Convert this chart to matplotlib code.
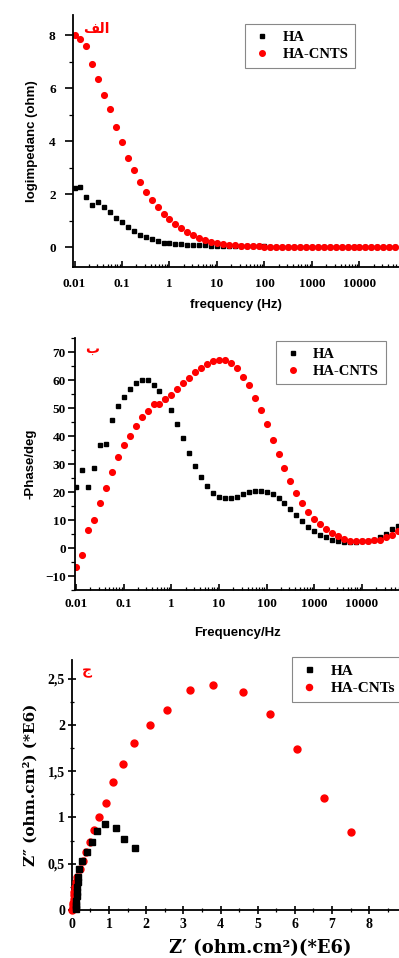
import matplotlib.pyplot as plt
from matplotlib.ticker import LogLocator, NullFormatter, MultipleLocator

# ---- данные ----
freq = [0.01, 0.0133, 0.0178, 0.0237, 0.0316, 0.0422, 0.0562, 0.075,
        0.1, 0.133, 0.178, 0.237, 0.316, 0.422, 0.562, 0.75,
        1, 1.33, 1.78, 2.37, 3.16, 4.22, 5.62, 7.5,
        10, 13.3, 17.8, 23.7, 31.6, 42.2, 56.2, 75,
        100, 133, 178, 237, 316, 422, 562, 750,
        1000, 1330, 1780, 2370, 3160, 4220, 5620, 7500,
        10000, 13300, 17800, 23700, 31600, 42200, 56200]

logz_ha = [2.23, 2.27, 1.90, 1.60, 1.71, 1.53, 1.32, 1.12, 0.94, 0.75, 0.61,
           0.48, 0.38, 0.30, 0.23, 0.18, 0.15, 0.13, 0.11, 0.10, 0.09, 0.08,
           0.08, 0.07, 0.07, 0.06, 0.06, 0.05, 0.05, 0.05, 0.04, 0.04, 0.04,
           0.03, 0.03, 0.03, 0.02, 0.02, 0.02, 0.02, 0.02, 0.02, 0.02, 0.02,
           0.02, 0.02, 0.02, 0.02, 0.02, 0.02, 0.02, 0.02, 0.02, 0.02, 0.02]
logz_cnt = [8.02, 7.87, 7.58, 6.92, 6.35, 5.75, 5.21, 4.54, 3.98, 3.38, 2.92,
            2.48, 2.09, 1.77, 1.51, 1.27, 1.06, 0.89, 0.72, 0.58, 0.46, 0.35,
            0.28, 0.22, 0.16, 0.13, 0.10, 0.08, 0.06, 0.05, 0.04, 0.04, 0.03,
            0.03, 0.03, 0.03, 0.02, 0.02, 0.02, 0.02, 0.02, 0.02, 0.02, 0.02,
            0.02, 0.02, 0.02, 0.02, 0.02, 0.02, 0.02, 0.02, 0.02, 0.02, 0.02]

phase_ha = [22.0, 28.0, 21.7, 28.8, 36.7, 37.3, 45.9, 50.9, 54.0, 57.0, 58.9,
            60.2, 60.2, 58.3, 56.3, 53.4, 49.2, 44.3, 39.2, 34.1, 29.4, 25.4,
            22.3, 19.8, 18.4, 17.8, 17.8, 18.4, 19.4, 20.2, 20.4, 20.4, 20.2,
            19.4, 17.9, 16.0, 13.9, 11.7, 9.6, 7.6, 6.1, 4.8, 3.8, 3.0, 2.5,
            2.2, 2.2, 2.2, 2.4, 2.5, 3.0, 3.8, 5.1, 6.7, 8.0]
phase_cnt = [-6.7, -2.3, 6.3, 10.2, 16.0, 21.6, 27.2, 32.6, 37.0, 40.1, 43.8,
             46.8, 49.1, 51.4, 51.4, 53.4, 54.8, 56.9, 58.9, 60.8, 62.8, 64.4,
             65.7, 66.8, 67.1, 67.1, 66.2, 64.2, 61.3, 58.2, 53.8, 49.2, 44.4,
             38.8, 33.5, 28.6, 24.1, 19.8, 16.2, 12.9, 10.3, 8.5, 6.7, 5.5,
             4.3, 3.3, 2.7, 2.6, 2.6, 2.6, 2.9, 2.9, 3.8, 4.7, 6.0]

zre_ha = [1.69, 1.41, 1.20, 0.90, 0.69, 0.54, 0.40, 0.27, 0.20, 0.17,
          0.16, 0.15, 0.14, 0.13, 0.12, 0.11, 0.11, 0.10]
zim_ha = [0.67, 0.77, 0.89, 0.93, 0.85, 0.74, 0.63, 0.53, 0.44, 0.36,
          0.30, 0.25, 0.20, 0.15, 0.10, 0.06, 0.03, 0.01]
zre_cnt = [7.50, 6.77, 6.07, 5.33, 4.60, 3.80, 3.17, 2.57, 2.09, 1.68, 1.37,
           1.11, 0.93, 0.74, 0.61, 0.49, 0.38, 0.29, 0.21, 0.14, 0.11, 0.09,
           0.07, 0.06, 0.05, 0.04, 0.03, 0.02, 0.01]
zim_cnt = [0.84, 1.21, 1.74, 2.12, 2.36, 2.43, 2.38, 2.16, 2.00, 1.80, 1.58,
           1.38, 1.16, 1.00, 0.86, 0.74, 0.63, 0.53, 0.44, 0.36, 0.30, 0.25,
           0.20, 0.16, 0.12, 0.08, 0.05, 0.02, 0.005]

freq_ticks = [0.01, 0.1, 1, 10, 100, 1000, 10000]
freq_labels = ['0.01', '0.1', '1', '10', '100', '1000', '10000']

SERIF = 'Liberation Serif'
SANS = 'Liberation Sans'

# жирный шрифт с засечками для подписей делений
plt.rcParams['font.family'] = [SERIF, 'DejaVu Sans']
plt.rcParams['font.weight'] = 'bold'

fig = plt.figure(figsize=(3.99, 9.58), dpi=100)
fig.patch.set_facecolor('white')


def style_axis(ax):
    ax.spines['top'].set_visible(False)
    ax.spines['right'].set_visible(False)
    for s in ('left', 'bottom'):
        ax.spines[s].set_linewidth(1.3)


def freq_axis(ax, xpad, ylen, ypad):
    ax.set_xscale('log')
    ax.set_xticks(freq_ticks)
    ax.set_xticklabels(freq_labels)
    ax.xaxis.set_minor_locator(LogLocator(base=10, subs=range(2, 10), numticks=20))
    ax.xaxis.set_minor_formatter(NullFormatter())
    ax.tick_params(axis='x', which='major', direction='in', length=4, width=1.2, labelsize=9.5, pad=xpad)
    ax.tick_params(axis='x', which='minor', direction='in', length=2.5, width=0.9)
    ax.tick_params(axis='y', which='major', direction='out', length=ylen, width=1.2, labelsize=9.5, pad=ypad)
    ax.tick_params(axis='y', which='minor', direction='out', length=ylen * 0.55, width=0.9)


def add_legend(ax, labels, anchor, size, ms):
    h1, = ax.plot([], [], 's', color='black', ms=ms[0], linestyle='none')
    h2, = ax.plot([], [], 'o', color='red', ms=ms[1], linestyle='none')
    leg = ax.legend([h1, h2], labels, loc='upper left', bbox_to_anchor=anchor,
                    borderaxespad=0, fancybox=False, framealpha=1, edgecolor='#888888',
                    handletextpad=0.7, handlelength=1.4, borderpad=0.45, labelspacing=0.25,
                    prop={'family': SERIF, 'weight': 'bold', 'size': size})
    leg.get_frame().set_linewidth(0.8)
    return leg


# ---- панель 1: логарифм импеданса ----
ax1 = fig.add_axes([0.183, 0.721, 0.817, 0.263])
ax1.plot(freq, logz_ha, 's', color='black', ms=3.4, linestyle='none')
ax1.plot(freq, logz_cnt, 'o', color='red', ms=4.1, linestyle='none')
freq_axis(ax1, xpad=8, ylen=5.5, ypad=7)
ax1.set_xlim(0.0093, 68000)
ax1.set_ylim(-0.75, 8.75)
ax1.set_yticks([0, 2, 4, 6, 8])
ax1.yaxis.set_minor_locator(MultipleLocator(1))
ax1.set_xlabel('frequency (Hz)', fontfamily=SANS, fontweight='bold', fontsize=9.5, labelpad=6)
ax1.set_ylabel('logimpedanc (ohm)', fontfamily=SANS, fontweight='bold', fontsize=9.5, labelpad=8)
style_axis(ax1)
add_legend(ax1, ['HA', 'HA-CNTS'], (0.528, 0.964), 10.5, (3.2, 4.0))
ax1.text(0.03, 0.975, '\uFED2\uFEDF\uFE8D', transform=ax1.transAxes, color='red',
         fontfamily='DejaVu Sans', fontweight='bold', fontsize=10, va='top', ha='left')

# ---- панель 2: фаза ----
ax2 = fig.add_axes([0.188, 0.384, 0.812, 0.263])
ax2.plot(freq, phase_ha, 's', color='black', ms=3.4, linestyle='none')
ax2.plot(freq, phase_cnt, 'o', color='red', ms=4.1, linestyle='none')
freq_axis(ax2, xpad=6, ylen=5, ypad=1.5)
ax2.set_xlim(0.0095, 60000)
ax2.set_ylim(-15, 75)
ax2.set_yticks(range(-10, 71, 10))
ax2.yaxis.set_minor_locator(MultipleLocator(5))
ax2.set_xlabel('Frequency/Hz', fontfamily=SANS, fontweight='bold', fontsize=9.5, labelpad=12)
ax2.set_ylabel('-Phase/deg', fontfamily=SANS, fontweight='bold', fontsize=9.5, labelpad=6)
style_axis(ax2)
add_legend(ax2, ['HA', 'HA-CNTS'], (0.620, 0.988), 10.5, (3.2, 4.0))
ax2.text(0.03, 0.985, '\uFE8F', transform=ax2.transAxes, color='red',
         fontfamily='DejaVu Sans', fontweight='bold', fontsize=10, va='top', ha='left')

# ---- панель 3: Найквист ----
ax3 = fig.add_axes([0.180, 0.050, 0.820, 0.261])
ax3.plot(zre_cnt, zim_cnt, 'o', color='red', ms=5, linestyle='none', clip_on=False, zorder=3)
ax3.plot(zre_ha, zim_ha, 's', color='black', ms=4, linestyle='none', clip_on=False, zorder=4)
ax3.set_xlim(0, 8.8)
ax3.set_ylim(0, 2.7)
ax3.set_xticks(range(0, 9))
ax3.set_yticks([0, 0.5, 1, 1.5, 2, 2.5])
ax3.set_yticklabels(['0', '0,5', '1', '1,5', '2', '2,5'])
ax3.xaxis.set_minor_locator(MultipleLocator(0.5))
ax3.yaxis.set_minor_locator(MultipleLocator(0.25))
ax3.tick_params(axis='both', which='major', direction='inout', length=6, width=1.2, labelsize=10)
ax3.tick_params(axis='both', which='minor', direction='inout', length=3.5, width=0.9)
ax3.tick_params(axis='x', pad=3)
ax3.tick_params(axis='y', pad=2)
ax3.set_xlabel('Z\u2032 (ohm.cm\u00b2)(*E6)', fontfamily='DejaVu Serif', fontweight='bold',
               fontsize=13)
ax3.xaxis.set_label_coords(0.575, -0.115)
ax3.set_ylabel('Z\u2033 (ohm.cm\u00b2) (*E6)', fontfamily='DejaVu Serif', fontweight='bold',
               fontsize=11, labelpad=7)
style_axis(ax3)
add_legend(ax3, ['HA', 'HA-CNTs'], (0.672, 1.012), 11, (3.6, 4.4))
ax3.text(0.03, 0.985, '\uFE9D', transform=ax3.transAxes, color='red',
         fontfamily='DejaVu Sans', fontweight='bold', fontsize=10, va='top', ha='left')

plt.savefig('out.png', dpi=100, facecolor=fig.get_facecolor())
plt.close(fig)
